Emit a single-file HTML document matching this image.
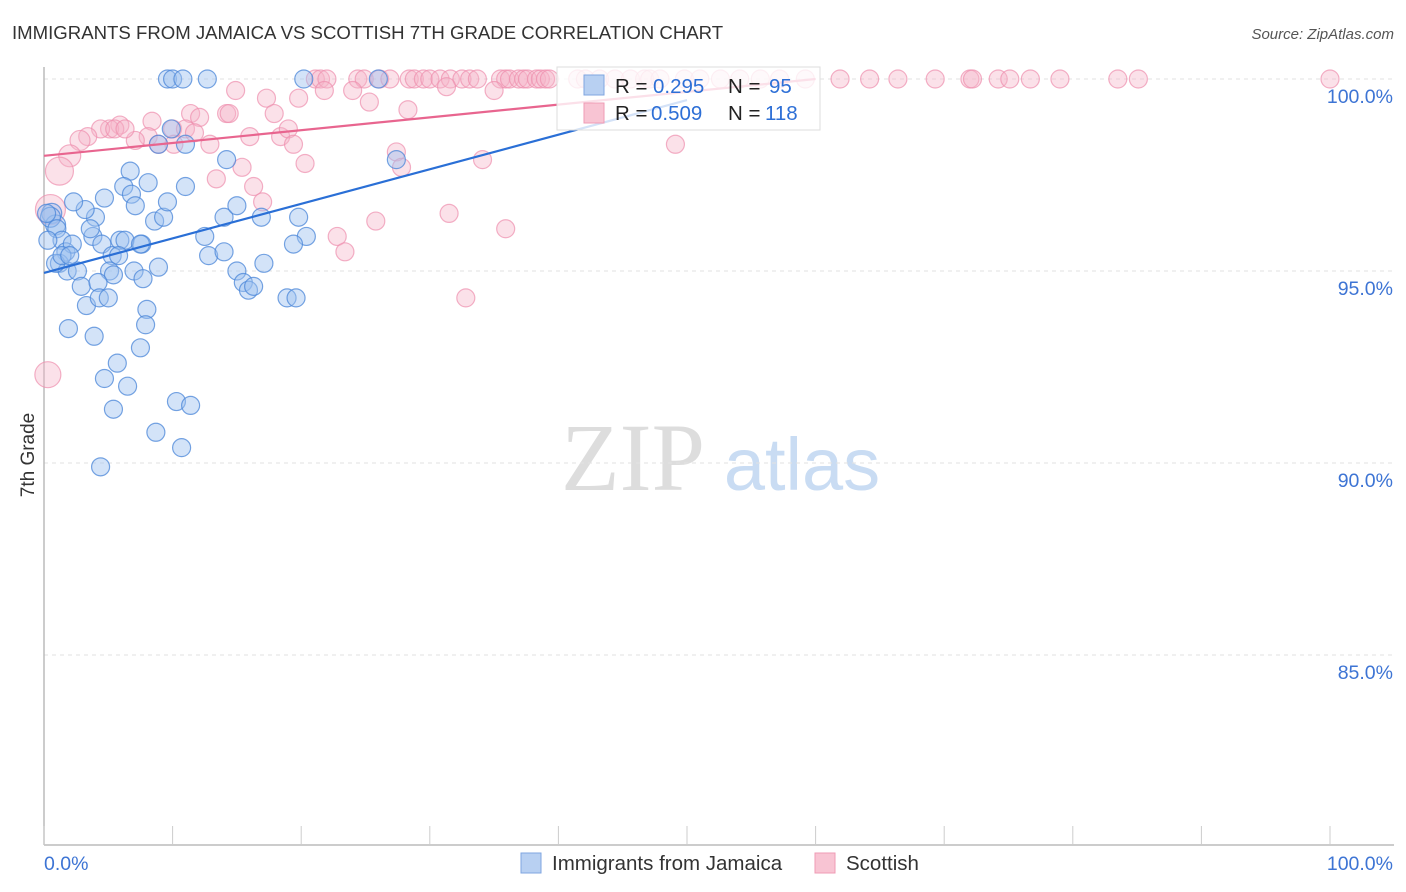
<!DOCTYPE html>
<html><head><meta charset="utf-8"><style>
html,body{margin:0;padding:0;background:#fff;}
svg{display:block;font-family:"Liberation Sans",sans-serif;}
</style></head><body>
<svg id="chart" width="1406" height="892" viewBox="0 0 1406 892">
<text x="12" y="39" font-size="18.6" fill="#333">IMMIGRANTS FROM JAMAICA VS SCOTTISH 7TH GRADE CORRELATION CHART</text>
<text x="1394" y="39" font-size="15" fill="#555" font-style="italic" text-anchor="end">Source: ZipAtlas.com</text>
<g>
<text x="633" y="490" font-size="96" fill="#ddd" font-family="Liberation Serif,serif" text-anchor="middle">ZIP</text>
<text x="802" y="490" font-size="74" fill="#c9dcf3" text-anchor="middle">atlas</text>
</g>
<g id="grid"></g>
<g id="axes"></g>
<g id="marks"></g>
<g id="legend-top">
<rect x="557" y="67" width="263" height="63" fill="#fff" fill-opacity="0.8" stroke="#ddd"/>
<rect x="584" y="75" width="20" height="20" fill="#b8d0f2" stroke="#7fa6e0"/>
<rect x="584" y="103" width="20" height="20" fill="#f8c4d3" stroke="#ef9bb5"/>
<text x="615" y="93" font-size="20.5" fill="#222">R = <tspan x="653" fill="#2d6fd6">0.295</tspan><tspan x="728">N = </tspan><tspan x="769" fill="#2d6fd6">95</tspan></text>
<text x="615" y="120" font-size="20.5" fill="#222">R = <tspan x="651" fill="#2d6fd6">0.509</tspan><tspan x="728">N = </tspan><tspan x="765" fill="#2d6fd6">118</tspan></text>
</g>
<g>
<rect x="521" y="853" width="20" height="20" fill="#b8d0f2" stroke="#7fa6e0"/>
<text x="552" y="870" font-size="20.5" fill="#333">Immigrants from Jamaica</text>
<rect x="815" y="853" width="20" height="20" fill="#f8c4d3" stroke="#ef9bb5"/>
<text x="846" y="870" font-size="20.5" fill="#333">Scottish</text>
</g>
<text transform="translate(34,455) rotate(-90)" font-size="19" fill="#333" text-anchor="middle">7th Grade</text>
</svg>
<script>
const yTicks=[100,95,90,85];
const yTickLabels=["100.0%","95.0%","90.0%","85.0%"];
const xTicks=[0,10,20,30,40,50,60,70,80,90,100];
const blueX=[9.6,10.0,10.8,12.7,20.2,26.0,0.6,0.9,0.5,1.0,1.4,1.7,2.2,1.2,1.8,2.6,2.9,3.3,3.8,4.0,3.6,3.2,2.3,4.7,4.5,5.3,5.9,6.3,6.7,6.2,6.8,7.1,8.1,8.6,9.3,9.6,11.0,7.6,7.5,5.8,5.1,5.4,4.2,4.3,5.0,7.0,7.7,8.9,1.9,3.9,8.0,7.9,7.5,5.7,4.7,6.5,5.4,8.7,10.3,11.4,10.7,4.4,9.9,11.0,8.9,14.2,12.5,12.8,14.0,14.0,15.0,16.9,17.1,15.0,15.5,15.9,16.3,19.8,20.4,19.4,18.9,19.6,27.4,0.9,1.4,2.0,0.3,0.2];
const blueY=[100,100,100,100,100,100,96.5,96.2,96.4,96.1,95.8,95.5,95.7,95.2,95.0,95.0,94.6,94.1,95.9,96.4,96.1,96.6,96.8,96.9,95.7,95.4,95.8,95.8,97.6,97.2,97.0,96.7,97.3,96.3,96.4,96.8,97.2,95.7,95.7,95.4,95.0,94.9,94.7,94.3,94.3,95.0,94.8,95.1,93.5,93.3,94.0,93.6,93.0,92.6,92.2,92.0,91.4,90.8,91.6,91.5,90.4,89.9,98.7,98.3,98.3,97.9,95.9,95.4,95.5,96.4,96.7,96.4,95.2,95.0,94.7,94.5,94.6,96.4,95.9,95.7,94.3,94.3,97.9,95.2,95.4,95.4,95.8,96.5];
const pinkX=[21.1,21.5,22.0,24.4,24.9,26.1,26.9,28.4,28.8,29.5,30.0,30.8,31.6,32.5,33.1,33.7,35.5,35.9,36.2,36.9,37.3,37.6,38.3,38.6,39.0,39.3,41.5,42.1,43.2,44.4,45.6,46.7,47.1,47.9,49.8,51.0,52.6,54.1,55.7,57.2,59.2,61.9,64.2,66.4,69.3,72.0,72.2,74.2,75.1,76.7,79.0,83.5,85.1,100,
14.9,17.3,14.2,17.9,19.8,21.8,25.3,28.3,35.0,24.0,31.3,11.4,12.1,14.4,8.4,5.9,5.1,4.4,3.4,2.8,2.0,1.2,0.5,0.3,10.0,11.0,11.7,12.9,8.1,7.1,10.1,8.9,16.0,18.4,19.0,19.4,15.4,13.4,16.3,17.0,20.3,22.8,23.4,25.8,27.4,27.8,31.5,34.1,35.9,32.8,49.1,5.5,6.3];
const pinkY=[100,100,100,100,100,100,100,100,100,100,100,100,100,100,100,100,100,100,100,100,100,100,100,100,100,100,100,100,100,100,100,100,100,100,100,100,100,100,100,100,100,100,100,100,100,100,100,100,100,100,100,100,100,100,
99.7,99.5,99.1,99.1,99.5,99.7,99.4,99.2,99.7,99.7,99.8,99.1,99.0,99.1,98.9,98.8,98.7,98.7,98.5,98.4,98.0,97.6,96.6,92.3,98.7,98.7,98.6,98.3,98.5,98.4,98.3,98.3,98.5,98.5,98.7,98.3,97.7,97.4,97.2,96.8,97.8,95.9,95.5,96.3,98.1,97.7,96.5,97.9,96.1,94.3,98.3,98.7,98.7];
const pinkBig=[[73,10],[74,11],[75,14],[76,15],[77,13]];
const blueFit=[0,94.95,50,99.45];
const pinkFit=[0,98.0,60,100.0];

const NS="http://www.w3.org/2000/svg";
const X0=44,X1=1330,Y100=79,PX_PER=38.4;
const sx=v=>X0+(X1-X0)*v/100;
const sy=v=>Y100+(100-v)*PX_PER;
function mk(tag,attrs,parent){const e=document.createElementNS(NS,tag);for(const k in attrs)e.setAttribute(k,attrs[k]);parent.appendChild(e);return e;}
const grid=document.getElementById('grid'),axes=document.getElementById('axes'),marks=document.getElementById('marks');
yTicks.forEach((t,i)=>{
 const l=mk('line',{x1:44,x2:1394,y1:sy(t),y2:sy(t),stroke:'#e2e2e2','stroke-dasharray':'4,4'},grid);
 
 
 const tx=mk('text',{x:1393,y:sy(t)+24,'font-size':19.5,fill:'#3d74d4','text-anchor':'end'},axes);
 tx.textContent=yTickLabels[i];
 
 
});
const ax=mk('line',{x1:44,x2:1394,y1:845,y2:845,stroke:'#bbb','stroke-width':1.5},axes);


const ay=mk('line',{x1:44,x2:44,y1:67,y2:845,stroke:'#bbb','stroke-width':1.5},axes);


xTicks.forEach(t=>{
 const l=mk('line',{x1:sx(t),x2:sx(t),y1:826,y2:845,stroke:'#ccc'},axes);
 
 
});
const xl0=mk('text',{x:44,y:870,'font-size':19.5,fill:'#3d74d4'},axes);xl0.textContent='0.0%';


const xl1=mk('text',{x:1393,y:870,'font-size':19.5,fill:'#3d74d4','text-anchor':'end'},axes);xl1.textContent='100.0%';



pinkX.forEach((x,i)=>{
 let r=9;pinkBig.forEach(b=>{if(b[0]===i)r=b[1];});
 const c=mk('circle',{cx:sx(x),cy:sy(pinkY[i]),r:r,fill:'#f6b5c8','fill-opacity':0.4,stroke:'#ee8fae','stroke-opacity':0.7,'stroke-width':1.2},marks);
 
 
});
blueX.forEach((x,i)=>{
 const r=i>=6&&i<=8?10:9;
 const c=mk('circle',{cx:sx(x),cy:sy(blueY[i]),r:r,fill:'#9ec2ef','fill-opacity':0.45,stroke:'#4a86d8','stroke-opacity':0.75,'stroke-width':1.2},marks);
 
 
});
const bl=mk('line',{x1:sx(blueFit[0]),y1:sy(blueFit[1]),x2:sx(blueFit[2]),y2:sy(blueFit[3]),stroke:'#2a6fd6','stroke-width':2.2},marks);


const pl=mk('line',{x1:sx(pinkFit[0]),y1:sy(pinkFit[1]),x2:sx(pinkFit[2]),y2:sy(pinkFit[3]),stroke:'#e8658f','stroke-width':2.2},marks);


</script>
</body></html>
